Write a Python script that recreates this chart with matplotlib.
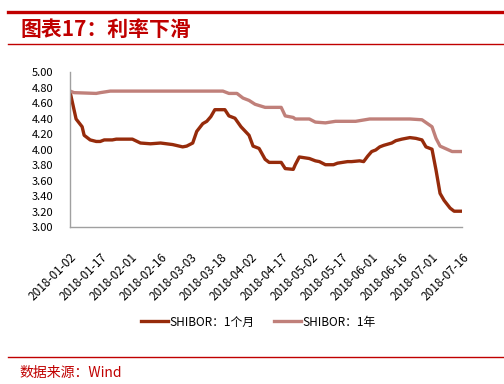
import matplotlib
matplotlib.use("Agg")
import matplotlib.pyplot as plt
from matplotlib.lines import Line2D
import pandas as pd

plt.rcParams['font.family'] = ['Noto Sans CJK SC', 'DejaVu Sans']

# ============================
# Data
# ============================
dates_1m = ["2018-01-02", "2018-01-05", "2018-01-08", "2018-01-09", "2018-01-12",
            "2018-01-15", "2018-01-17", "2018-01-19", "2018-01-23", "2018-01-25",
            "2018-02-02", "2018-02-06", "2018-02-11", "2018-02-16", "2018-02-22",
            "2018-02-27", "2018-03-01", "2018-03-04", "2018-03-06", "2018-03-09",
            "2018-03-11", "2018-03-13", "2018-03-15", "2018-03-20", "2018-03-22",
            "2018-03-25", "2018-03-28", "2018-04-01", "2018-04-03", "2018-04-06",
            "2018-04-09", "2018-04-11", "2018-04-17", "2018-04-19", "2018-04-23",
            "2018-04-24", "2018-04-26", "2018-05-01", "2018-05-04", "2018-05-06",
            "2018-05-09", "2018-05-13", "2018-05-15", "2018-05-20", "2018-05-22",
            "2018-05-26", "2018-05-28", "2018-05-30", "2018-06-01", "2018-06-03",
            "2018-06-05", "2018-06-07", "2018-06-11", "2018-06-13", "2018-06-16",
            "2018-06-20", "2018-06-23", "2018-06-26", "2018-06-28", "2018-07-01",
            "2018-07-03", "2018-07-05", "2018-07-07", "2018-07-10", "2018-07-12",
            "2018-07-16"]
shibor_1m = [4.75, 4.40, 4.30, 4.19, 4.13,
             4.11, 4.11, 4.13, 4.13, 4.14,
             4.14, 4.09, 4.08, 4.09, 4.07,
             4.04, 4.05, 4.09, 4.24, 4.34,
             4.37, 4.43, 4.52, 4.52, 4.44,
             4.41, 4.30, 4.19, 4.05, 4.02,
             3.88, 3.84, 3.84, 3.76, 3.75,
             3.81, 3.91, 3.89, 3.86, 3.85,
             3.81, 3.81, 3.83, 3.85, 3.85,
             3.86, 3.85, 3.92, 3.98, 4.00,
             4.04, 4.06, 4.09, 4.12, 4.14,
             4.16, 4.15, 4.13, 4.04, 4.01,
             3.74, 3.44, 3.35, 3.25, 3.21,
             3.21]

dates_1y = ["2018-01-02", "2018-01-04", "2018-01-15", "2018-01-17", "2018-01-22",
            "2018-03-19", "2018-03-22", "2018-03-26", "2018-03-29", "2018-04-01",
            "2018-04-04", "2018-04-09", "2018-04-17", "2018-04-19", "2018-04-23",
            "2018-04-24", "2018-05-01", "2018-05-04", "2018-05-09", "2018-05-14",
            "2018-05-24", "2018-05-31", "2018-06-20", "2018-06-26", "2018-07-01",
            "2018-07-03", "2018-07-05", "2018-07-11", "2018-07-16"]
shibor_1y = [4.76, 4.74, 4.73, 4.74, 4.76,
             4.76, 4.73, 4.73, 4.67, 4.64,
             4.59, 4.55, 4.55, 4.44, 4.42,
             4.40, 4.40, 4.36, 4.35, 4.37,
             4.37, 4.40, 4.40, 4.39, 4.30,
             4.15, 4.05, 3.98, 3.98]

tick_dates = pd.date_range("2018-01-02", "2018-07-16", freq="15D")
y_ticks = [3.0, 3.2, 3.4, 3.6, 3.8, 4.0, 4.2, 4.4, 4.6, 4.8, 5.0]

RED = "#C00000"

# ============================
# Figure
# ============================
fig = plt.figure(figsize=(5.04, 3.84), dpi=100)
ax = fig.add_axes([0.139, 0.4076, 0.778, 0.4036])

ax.plot(pd.to_datetime(dates_1m), shibor_1m, color="#962B0B", lw=2.4,
        label="SHIBOR：1个月", solid_joinstyle="round")
ax.plot(pd.to_datetime(dates_1y), shibor_1y, color="#C0807A", lw=2.4,
        label="SHIBOR：1年", solid_joinstyle="round")

ax.set_xlim(pd.Timestamp("2018-01-02"), pd.Timestamp("2018-07-16"))
ax.set_ylim(3.0, 5.0)
ax.set_yticks(y_ticks)
ax.set_yticklabels([f"{v:.2f}" for v in y_ticks], fontsize=8)
ax.set_xticks(tick_dates)
ax.set_xticklabels([d.strftime("%Y-%m-%d") for d in tick_dates], fontsize=8.5,
                   rotation=45, ha="right", rotation_mode="anchor")
ax.tick_params(axis="both", length=0)
ax.tick_params(axis="y", pad=12)
ax.tick_params(axis="x", pad=17)

for s in ["top", "right"]:
    ax.spines[s].set_visible(False)
for s in ["left", "bottom"]:
    ax.spines[s].set_color("#A0A0A0")
    ax.spines[s].set_linewidth(1.0)

ax.legend(loc="center", bbox_to_anchor=(0.48, -0.61), ncol=2, frameon=False,
          fontsize=8.5, handlelength=2.3, handletextpad=0.15, columnspacing=1.6)

# ============================
# Header / footer decorations
# ============================
fig.add_artist(Line2D([8 / 504, 1], [1 - 11.5 / 384] * 2, color=RED, lw=2.4))
fig.add_artist(Line2D([8 / 504, 1], [1 - 43.5 / 384] * 2, color=RED, lw=1.0))
fig.text(20 / 504, 1 - 29 / 384, "图表17：利率下滑", color=RED, fontsize=15,
         fontweight="bold", fontstyle="italic", va="center", ha="left")

fig.add_artist(Line2D([8 / 504, 1], [1 - 357 / 384] * 2, color=RED, lw=1.0))
fig.text(19 / 504, 1 - 373 / 384, "数据来源：Wind", color=RED, fontsize=10,
         va="center", ha="left")

fig.savefig("out.png", dpi=100)
